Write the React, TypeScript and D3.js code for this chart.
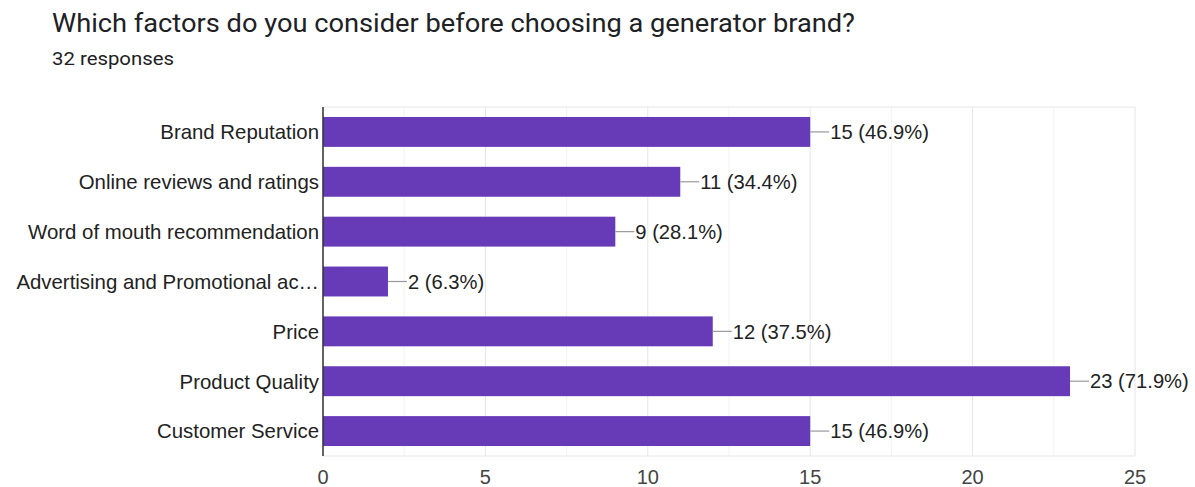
import React from "react";
import * as d3 from "d3";

const categories = [
  "Brand Reputation",
  "Online reviews and ratings",
  "Word of mouth recommendation",
  "Advertising and Promotional ac…",
  "Price",
  "Product Quality",
  "Customer Service",
];
const counts = [15, 11, 9, 2, 12, 23, 15];
const valueLabels = ["15 (46.9%)", "11 (34.4%)", "9 (28.1%)", "2 (6.3%)", "12 (37.5%)", "23 (71.9%)", "15 (46.9%)"];
const majorTicks = [0, 5, 10, 15, 20, 25];
const minorTicks = [2.5, 7.5, 12.5, 17.5, 22.5];
const title = "Which factors do you consider before choosing a generator brand?";
const subtitle = "32 responses";

const W = 1195;
const H = 487;
const left = 323;
const right = 1135;
const top = 107;
const bottom = 456;
const titleFont = "Roboto, Arial, sans-serif";
const font = "'Liberation Sans', Arial, sans-serif";

export default function App() {
  const x = d3.scaleLinear().domain([0, 25]).range([left, right]);
  const y = d3.scaleBand<string>().domain(categories).range([top, bottom]).paddingInner(0.4).paddingOuter(0.2);
  return (
    <svg width={W} height={H} style={{ position: "absolute", left: 0, top: 0, background: "#fff" }}>
      <text x={52} y={32} fontFamily={titleFont} fontSize={25} fill="#202124" textLength={803} lengthAdjust="spacingAndGlyphs">{title}</text>
      <text x={52} y={65} fontFamily={titleFont} fontSize={19} fill="#202124" textLength={122} lengthAdjust="spacingAndGlyphs">{subtitle}</text>
      {minorTicks.map((t) => (
        <line key={"m" + t} x1={x(t)} x2={x(t)} y1={top} y2={bottom} stroke="#f3f3f3" strokeWidth={1} />
      ))}
      {majorTicks.map((t) => (
        <line key={"g" + t} x1={x(t)} x2={x(t)} y1={top} y2={bottom} stroke="#e6e6e6" strokeWidth={1} />
      ))}
      <line x1={left} x2={right} y1={top} y2={top} stroke="#e6e6e6" />
      <line x1={left} x2={right} y1={bottom} y2={bottom} stroke="#e6e6e6" />
      {categories.map((c, i) => {
        const yy = y(c)!;
        const bw = y.bandwidth();
        const cy = yy + bw / 2;
        const xe = x(counts[i]);
        return (
          <g key={c}>
            <rect x={x(0)} y={yy} width={xe - x(0)} height={bw} fill="#673ab7" />
            <line x1={xe} x2={xe + 19} y1={cy} y2={cy} stroke="#999" strokeWidth={1.2} />
            <text x={xe + 20} y={cy} dy="0.36em" fontFamily={font} fontSize={20.2} fill="#222">{valueLabels[i]}</text>
            <text x={left - 4} y={cy} dy="0.36em" textAnchor="end" fontFamily={font} fontSize={20.4} fill="#222">{c}</text>
          </g>
        );
      })}
      <line x1={left} x2={left} y1={top} y2={bottom} stroke="#333" strokeWidth={1.5} />
      {majorTicks.map((t) => (
        <text key={"t" + t} x={x(t)} y={484} textAnchor="middle" fontFamily={font} fontSize={20} fill="#444">{t}</text>
      ))}
    </svg>
  );
}
